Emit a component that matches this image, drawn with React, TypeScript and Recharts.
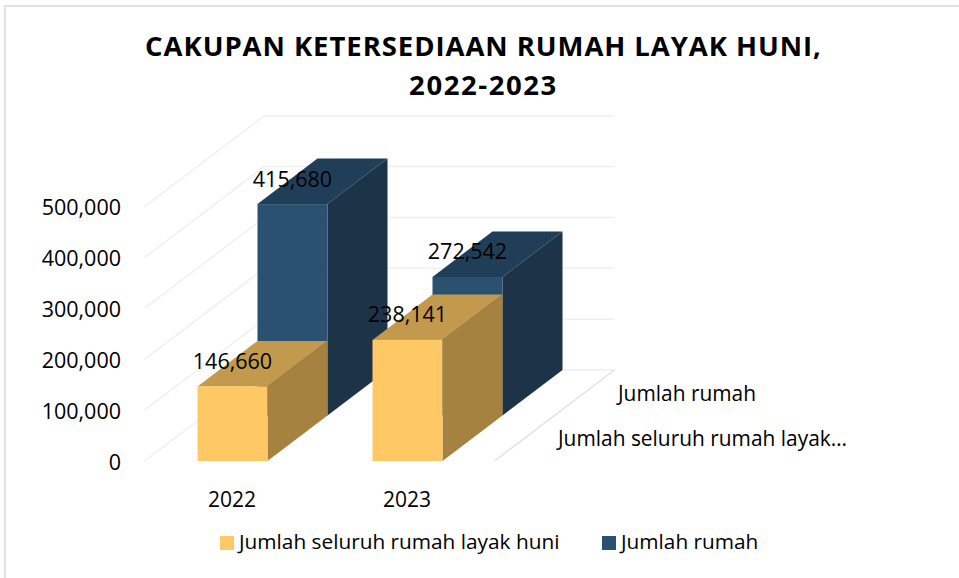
import { BarChart, Bar, XAxis, YAxis, ReferenceLine, LabelList } from 'recharts';

const titleLines = ['CAKUPAN KETERSEDIAAN RUMAH LAYAK HUNI,', '2022-2023'];
const years = ['2022', '2023'];
const layakHuni = [146660, 238141];
const jumlahRumah = [415680, 272542];
const yTicks = [0, 100000, 200000, 300000, 400000, 500000];
const layakHuniName = 'Jumlah seluruh rumah layak huni';
const rumahName = 'Jumlah rumah';

const chartData = years.map((year, i) => ({
  year,
  layakHuni: layakHuni[i],
  rumah: jumlahRumah[i],
}));

const FONT = '"Open Sans", sans-serif';

// depth of one bar row; the walls are two rows deep
const ROW_DX = 60;
const ROW_DY = -45.5;

const YELLOW = { front: '#fec965', top: '#c3994d', side: '#a5823f' };
const NAVY = { front: '#2b5170', top: '#203e58', side: '#1d3347' };

const makeBox = (colors: typeof YELLOW, ox: number, oy: number) => (props: any) => {
  const { x, y, width, height } = props;
  const l = x + ox;
  const r = l + width;
  const t = y + oy;
  const b = t + height;
  return (
    <g>
      <polygon points={`${r},${t} ${r + ROW_DX},${t + ROW_DY} ${r + ROW_DX},${b + ROW_DY} ${r},${b}`} fill={colors.side} />
      <polygon points={`${l},${t} ${l + ROW_DX},${t + ROW_DY} ${r + ROW_DX},${t + ROW_DY} ${r},${t}`} fill={colors.top} />
      <rect x={l} y={t} width={width} height={height} fill={colors.front} />
    </g>
  );
};

const makeLabel = (ox: number, oy: number) => (props: any) => {
  const { x, y, width, value } = props;
  return (
    <text
      x={x + width / 2 + ox}
      y={y + oy - 26}
      textAnchor="middle"
      dominantBaseline="central"
      fontFamily={FONT}
      fontSize={21.5}
      fill="#000"
    >
      {Number(value).toLocaleString('en-US')}
    </text>
  );
};

const wallLine = (isFloor: boolean) => (props: any) => {
  const { x1, x2, y1 } = props;
  const dx = ROW_DX * 2;
  const dy = ROW_DY * 2;
  return (
    <g>
      <polyline
        points={`${x1},${y1} ${x1 + dx},${y1 + dy} ${x2 + dx},${y1 + dy}`}
        fill="none"
        stroke="#f0f0f0"
        strokeWidth={1.5}
      />
      {isFloor && (
        <line x1={x2} y1={y1} x2={x2 + dx} y2={y1 + dy} stroke="#e2e2e2" strokeWidth={1.5} />
      )}
    </g>
  );
};

export default function App() {
  return (
    <div style={{ position: 'absolute', left: 0, top: 0, width: 959, height: 578, background: '#fff', fontFamily: FONT, overflow: 'hidden' }}>
      <div style={{ position: 'absolute', left: 4, top: 5, right: 0, bottom: 0, borderLeft: '2px solid #e2e2e2', borderTop: '2px solid #e2e2e2' }} />

      <BarChart
        width={959}
        height={578}
        data={chartData}
        barSize={70}
        barGap={-70}
        margin={{ top: 206.7, right: 464.5, bottom: 0, left: 0 }}
        style={{ position: 'absolute', left: 0, top: 0 }}
      >
        <XAxis
          dataKey="year"
          height={117}
          axisLine={false}
          tickLine={false}
          tickMargin={25}
          tick={{ fontFamily: FONT, fontSize: 21, fill: '#000' }}
        />
        <YAxis
          width={144.5}
          domain={[0, 500000]}
          ticks={yTicks}
          axisLine={false}
          tickLine={false}
          tickMargin={17.5}
          tickFormatter={(v: number) => v.toLocaleString('en-US')}
          tick={{ fontFamily: FONT, fontSize: 21.5, fill: '#000', dy: 1 }}
        />
        {yTicks.map((v) => (
          <ReferenceLine key={v} y={v} ifOverflow="visible" shape={wallLine(v === 0)} zIndex={-50} />
        ))}
        <Bar
          dataKey="rumah"
          isAnimationActive={false}
          shape={makeBox(NAVY, ROW_DX, ROW_DY)}
        >
          <LabelList dataKey="rumah" content={makeLabel(ROW_DX, ROW_DY)} />
        </Bar>
        <Bar
          dataKey="layakHuni"
          isAnimationActive={false}
          shape={makeBox(YELLOW, 0, 0)}
        >
          <LabelList dataKey="layakHuni" content={makeLabel(0, 0)} />
        </Bar>
      </BarChart>

      <div style={{ position: 'absolute', left: 0, width: 967, top: 26, textAlign: 'center', fontWeight: 700, fontSize: 27.5, lineHeight: '39px', color: '#000' }}>
        <div style={{ letterSpacing: 0.94 }}>{titleLines[0]}</div>
        <div style={{ letterSpacing: 1.57 }}>{titleLines[1]}</div>
      </div>

      <div style={{ position: 'absolute', left: 618, top: 379, fontSize: 20.9, lineHeight: '28px', color: '#000', whiteSpace: 'nowrap' }}>{rumahName}</div>
      <div style={{ position: 'absolute', left: 558, top: 424, fontSize: 20.9, lineHeight: '28px', color: '#000', whiteSpace: 'nowrap' }}>Jumlah seluruh rumah layak…</div>

      <div style={{ position: 'absolute', left: 220, top: 536, width: 14, height: 14, background: YELLOW.front }} />
      <div style={{ position: 'absolute', left: 239, top: 527, fontSize: 20.8, lineHeight: '28px', color: '#000', whiteSpace: 'nowrap' }}>{layakHuniName}</div>
      <div style={{ position: 'absolute', left: 602, top: 536, width: 14, height: 14, background: NAVY.front }} />
      <div style={{ position: 'absolute', left: 621, top: 527, fontSize: 20.8, lineHeight: '28px', color: '#000', whiteSpace: 'nowrap' }}>{rumahName}</div>
    </div>
  );
}
